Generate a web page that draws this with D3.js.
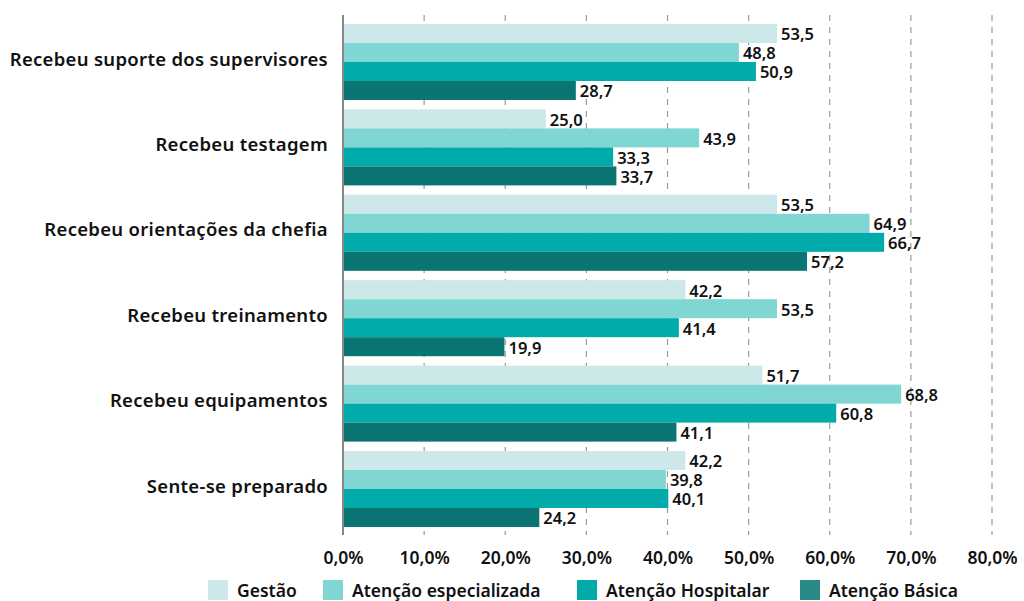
<!DOCTYPE html>
<html><head><meta charset="utf-8">
<script src="https://cdn.jsdelivr.net/npm/d3@7"></script>
<style>body{margin:0;background:#fff;} text{font-family:"Noto Sans","Open Sans",sans-serif;}</style>
</head><body>
<svg id="c" width="1024" height="601"></svg>
<script>
const categories = ["Recebeu suporte dos supervisores","Recebeu testagem","Recebeu orientações da chefia","Recebeu treinamento","Recebeu equipamentos","Sente-se preparado"];
const seriesNames = ["Gestão","Atenção especializada","Atenção Hospitalar","Atenção Básica"];
const gestao = [53.5,25.0,53.5,42.2,51.7,42.2];
const especializada = [48.8,43.9,64.9,53.5,68.8,39.8];
const hospitalar = [50.9,33.3,66.7,41.4,60.8,40.1];
const basica = [28.7,33.7,57.2,19.9,41.1,24.2];
const tickValues = [0,10,20,30,40,50,60,70,80];
const colors = ["#cde8e8","#7fd6d3","#00abaa","#0b7573"];
const legendColors = ["#cde8e8","#7fd6d3","#00abaa","#2b8a87"];

const svg = d3.select("#c");
const seriesVals = [gestao, especializada, hospitalar, basica];
const x = d3.scaleLinear().domain([0,80]).range([343,992]);
const y = d3.scaleBand().domain(categories).range([19.3,531.7]).paddingInner(0.11).paddingOuter(0.055);
const ys = d3.scaleBand().domain(seriesNames).range([0,y.bandwidth()]);
const fmt = v => d3.format(".1f")(v).replace(".",",");

// gridlines
svg.append("g").selectAll("line").data(tickValues.slice(1)).join("line")
  .attr("x1",d=>x(d)).attr("x2",d=>x(d)).attr("y1",15).attr("y2",535)
  .attr("stroke","#999").attr("stroke-width",1.2).attr("stroke-dasharray","6,6");

// bars
const g = svg.append("g");
categories.forEach((c,i)=>{
  seriesNames.forEach((s,j)=>{
    const v = seriesVals[j][i];
    g.append("rect").attr("x",x(0)).attr("y",y(c)+ys(s)).attr("width",x(v)-x(0)).attr("height",ys.bandwidth()).attr("fill",colors[j]);
    g.append("text").attr("x",x(v)+4).attr("y",y(c)+ys(s)+ys.bandwidth()/2+1).attr("dy","0.36em")
      .attr("font-size",16.5).attr("font-weight",600).attr("fill","#111").text(fmt(v));
  });
});

// left axis line
svg.append("line").attr("x1",x(0)).attr("x2",x(0)).attr("y1",15).attr("y2",535).attr("stroke","#888").attr("stroke-width",2);

// x tick labels
const xa = svg.append("g").attr("transform","translate(0,530)").call(d3.axisBottom(x).tickValues(tickValues).tickSize(0).tickFormat(d=>d3.format(".1f")(d).replace(".",",")+"%"));
xa.select(".domain").remove();
xa.selectAll("text").attr("y",22).attr("font-size",17.5).attr("font-weight",600).attr("fill","#111").style("font-family","'Noto Sans','Open Sans',sans-serif");

// category labels
svg.append("g").selectAll("text").data(categories).join("text")
  .attr("x",328).attr("y",d=>y(d)+y.bandwidth()/2-3).attr("dy","0.36em").attr("text-anchor","end")
  .attr("font-size",18.5).attr("font-weight",600).attr("letter-spacing",0.3).attr("fill","#111").text(d=>d);

// legend
const legX = [208,323,577,800];
const lg = svg.append("g");
seriesNames.forEach((s,j)=>{
  lg.append("rect").attr("x",legX[j]).attr("y",580).attr("width",20).attr("height",20).attr("fill",legendColors[j]);
  lg.append("text").attr("x",legX[j]+29).attr("y",591).attr("dy","0.36em").attr("font-size",17.5).attr("font-weight",600).attr("fill","#111").text(s);
});
</script>
</body></html>
